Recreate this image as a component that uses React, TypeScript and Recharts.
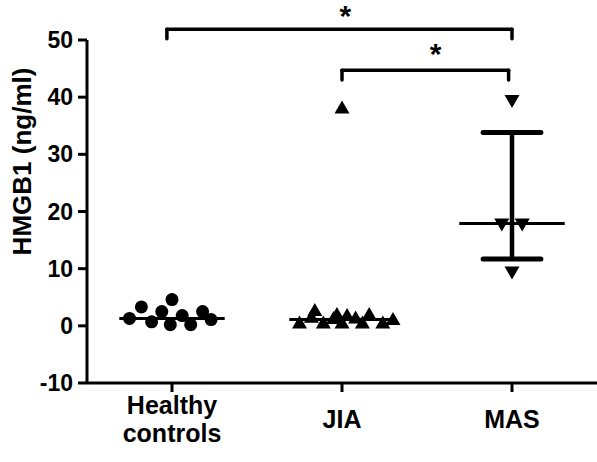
import { ScatterChart, Scatter, XAxis, YAxis, ReferenceLine, ReferenceDot } from 'recharts'

// group positions on the x scale (0..3)
const categories = ['Healthy controls', 'JIA', 'MAS']
const categoryX = [0.5, 1.5, 2.5]
const yTicks = [-10, 0, 10, 20, 30, 40, 50]

// individual points
const healthyX = [0.5, 0.32, 0.44, 0.68, 0.25, 0.38, 0.49, 0.61, 0.73, 0.56]
const healthyY = [4.6, 3.3, 2.5, 2.5, 1.3, 0.7, 0.2, 0.2, 1.1, 1.8]
const jiaX = [1.5, 1.25, 1.32, 1.34, 1.39, 1.45, 1.47, 1.5, 1.53, 1.58, 1.62, 1.66, 1.74, 1.8]
const jiaY = [38, 0.4, 1.4, 2.6, 0.4, 1.2, 1.9, 0.4, 1.7, 1.3, 0.4, 1.9, 0.4, 1.0]
const masX = [2.5, 2.44, 2.56, 2.5]
const masY = [39.5, 17.9, 17.9, 9.5]

// median line and range bars per group
const medians = [1.3, 1.1, 17.9]
const lowerBars = [null, null, 11.7]
const upperBars = [null, null, 33.8]

// significance brackets: [left x, right x, bar y, foot y, star x, star y]
const brackets = [
  [0.47, 2.5, 51.9, 50.2, 1.52, 55.3],
  [1.5, 2.48, 44.7, 43.0, 2.05, 48.7],
]

const font = '"Liberation Sans", Arial, sans-serif'
const medianHalf = 0.31
const barHalf = 0.17

const toPoints = (xs: number[], ys: number[]) => xs.map((x, i) => ({ x, y: ys[i] }))

const Circle = (props: any) => <circle cx={props.cx} cy={props.cy} r={6.5} fill="#000" />
const TriUp = (props: any) => {
  const { cx, cy } = props
  return <polygon points={`${cx},${cy - 8} ${cx - 7.5},${cy + 5} ${cx + 7.5},${cy + 5}`} fill="#000" />
}
const TriDown = (props: any) => {
  const { cx, cy } = props
  return <polygon points={`${cx},${cy + 8} ${cx - 7.5},${cy - 5} ${cx + 7.5},${cy - 5}`} fill="#000" />
}

const CategoryTick = (props: any) => {
  const { x, y, payload } = props
  const idx = categoryX.indexOf(payload.value)
  const words = idx === 0 ? ['Healthy', 'controls'] : [categories[idx]]
  const startDy = words.length > 1 ? 20 : 34
  return (
    <text x={x} y={y} textAnchor="middle" fontFamily={font} fontWeight="bold" fontSize={25} fill="#000">
      {words.map((w, i) => (
        <tspan key={w} x={x} dy={i === 0 ? startDy : 28}>
          {w}
        </tspan>
      ))}
    </text>
  )
}

export default function App() {
  return (
    <div style={{ width: 597, height: 462, background: '#fff' }}>
      <style>{'body{margin:0}'}</style>
      <ScatterChart width={597} height={462} margin={{ top: 40, right: 0, bottom: 0, left: 0 }}>
        <XAxis
          type="number"
          dataKey="x"
          domain={[0, 3]}
          ticks={categoryX}
          allowDataOverflow
          height={79}
          stroke="#000"
          strokeWidth={3}
          tickSize={9}
          tickLine={{ stroke: '#000', strokeWidth: 3 }}
          tick={<CategoryTick />}
        />
        <YAxis
          type="number"
          dataKey="y"
          domain={[-10, 50]}
          ticks={yTicks}
          allowDataOverflow
          width={87}
          stroke="#000"
          strokeWidth={3}
          tickSize={9}
          tickMargin={5}
          tickLine={{ stroke: '#000', strokeWidth: 3 }}
          tick={{ fill: '#000', fontFamily: font, fontWeight: 'bold', fontSize: 23 }}
          label={{
            value: 'HMGB1 (ng/ml)',
            angle: -90,
            position: 'insideLeft',
            offset: 22,
            dy: -50,
            style: { textAnchor: 'middle', fill: '#000', fontFamily: font, fontWeight: 'bold', fontSize: 26 },
          }}
        />
        {categoryX.map((cx, i) => (
          <ReferenceLine
            key={`med-${i}`}
            segment={[
              { x: cx - medianHalf, y: medians[i] },
              { x: cx + medianHalf, y: medians[i] },
            ]}
            stroke="#000"
            strokeWidth={3}
          />
        ))}
        {categoryX.map((cx, i) =>
          lowerBars[i] != null && upperBars[i] != null ? (
            <ReferenceLine
              key={`vbar-${i}`}
              segment={[
                { x: cx, y: lowerBars[i] as number },
                { x: cx, y: upperBars[i] as number },
              ]}
              stroke="#000"
              strokeWidth={4.5}
            />
          ) : null
        )}
        {categoryX.map((cx, i) =>
          [lowerBars[i], upperBars[i]].map((v, j) =>
            v != null ? (
              <ReferenceLine
                key={`cap-${i}-${j}`}
                segment={[
                  { x: cx - barHalf, y: v },
                  { x: cx + barHalf, y: v },
                ]}
                stroke="#000"
                strokeWidth={5}
                strokeLinecap="round"
              />
            ) : null
          )
        )}
        {brackets.map((b, i) => (
          <ReferenceLine
            key={`brh-${i}`}
            ifOverflow="visible"
            segment={[
              { x: b[0], y: b[2] },
              { x: b[1], y: b[2] },
            ]}
            stroke="#000"
            strokeWidth={3.5}
            strokeLinecap="round"
          />
        ))}
        {brackets.map((b, i) => (
          <ReferenceLine
            key={`brl-${i}`}
            ifOverflow="visible"
            segment={[
              { x: b[0], y: b[2] },
              { x: b[0], y: b[3] },
            ]}
            stroke="#000"
            strokeWidth={3.5}
            strokeLinecap="round"
          />
        ))}
        {brackets.map((b, i) => (
          <ReferenceLine
            key={`brr-${i}`}
            ifOverflow="visible"
            segment={[
              { x: b[1], y: b[2] },
              { x: b[1], y: b[3] },
            ]}
            stroke="#000"
            strokeWidth={3.5}
            strokeLinecap="round"
          />
        ))}
        {brackets.map((b, i) => (
          <ReferenceDot
            key={`star-${i}`}
            x={b[4]}
            y={b[5]}
            r={0}
            ifOverflow="visible"
            stroke="none"
            label={{ value: '*', position: 'center', dy: 6, fill: '#000', fontFamily: font, fontWeight: 'bold', fontSize: 30 }}
          />
        ))}
        <Scatter data={toPoints(healthyX, healthyY)} shape={<Circle />} isAnimationActive={false} />
        <Scatter data={toPoints(jiaX, jiaY)} shape={<TriUp />} isAnimationActive={false} />
        <Scatter data={toPoints(masX, masY)} shape={<TriDown />} isAnimationActive={false} />
      </ScatterChart>
    </div>
  )
}
